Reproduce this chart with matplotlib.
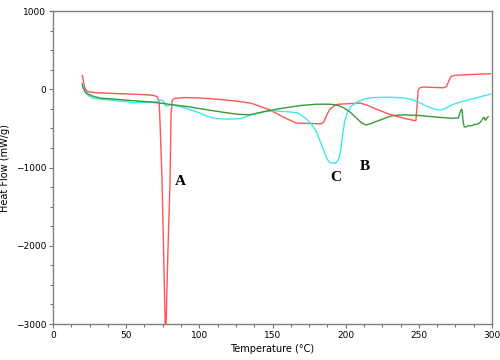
import matplotlib
matplotlib.use("Agg")
import matplotlib.pyplot as plt
from matplotlib.ticker import MultipleLocator

# Curva A (roja)
temp_a = [20, 20.7, 21.5, 23, 25, 32, 45, 60, 68, 71, 72.5, 73.3, 74.5, 75.5, 76.7,
          77.2, 78.5, 80, 80.7, 81.5, 83, 90, 100, 115, 125, 135, 148, 157, 166,
          174, 183, 185, 187, 189, 192, 195, 205, 210, 215, 220, 230, 240, 246,
          248, 248.8, 249.5, 250.5, 253, 260, 267, 269, 270.5, 272, 275, 285, 299]
flow_a = [180, 120, 30, -20, -35, -45, -55, -65, -75, -90, -150, -500, -1160, -2000, -3050,
          -3050, -2100, -1160, -300, -140, -115, -105, -110, -130, -150, -175, -260, -350, -430,
          -435, -440, -420, -330, -260, -210, -190, -180, -175, -205, -245, -320, -370, -395,
          -400, -200, -20, 20, 30, 25, 20, 40, 110, 165, 180, 190, 200]

# Curva C (cian)
temp_c = [20, 20.5, 21.5, 23, 25, 27, 32, 44, 52, 55, 58, 66, 71, 73.5, 75.5, 77, 78.5,
          80, 85, 92, 100, 106, 112, 120, 128, 132, 135, 145, 150, 160, 167, 172, 176,
          180, 184, 187, 189, 193, 195, 196.5, 198, 199.5, 201, 204, 208, 213, 219, 230,
          240, 246, 251, 256, 261, 264.5, 268, 272, 276, 285, 292, 299]
flow_c = [80, 40, -20, -60, -90, -110, -125, -145, -160, -175, -165, -165, -160, -135, -150, -210, -215,
          -195, -210, -250, -300, -350, -375, -380, -375, -350, -325, -285, -275, -285, -300, -360, -430,
          -540, -730, -880, -935, -945, -900, -800, -560, -400, -300, -210, -160, -120, -105, -100,
          -110, -135, -175, -220, -255, -265, -245, -205, -175, -130, -95, -60]

# Curva B (verde)
temp_b = [20, 20.5, 22, 24, 27, 32, 45, 55, 66, 75, 83, 92, 100, 110, 119, 127, 135, 145,
          157, 170, 180, 190, 195, 199, 203, 207, 211, 214, 217, 221, 226, 232, 240, 251,
          262, 273, 277, 278, 279, 279.5, 280.2, 281, 282, 284, 286, 288, 290, 292, 293.5,
          294.5, 295.5, 296.5, 297.5]
flow_b = [60, 20, -30, -60, -85, -110, -130, -145, -160, -180, -200, -220, -245, -275, -300, -320, -325, -280,
          -240, -205, -190, -190, -205, -240, -290, -360, -430, -455, -440, -410, -375, -335, -325, -335,
          -355, -370, -365, -300, -255, -260, -400, -480, -480, -465, -465, -450, -445, -420, -380,
          -355, -395, -365, -350]

x_ticks = [0, 50, 100, 150, 200, 250, 300]
y_ticks = [-3000, -2000, -1000, 0, 1000]

fig = plt.figure(figsize=(5, 3.6), dpi=100)
ax = fig.add_axes([0.106, 0.1, 0.878, 0.869])

ax.plot(temp_a, flow_a, color="#ff5555", lw=1.0)
ax.plot(temp_c, flow_c, color="#3de9ee", lw=1.0)
ax.plot(temp_b, flow_b, color="#3a9a3a", lw=1.0)

# Etiquetas de los picos
etiq = {"fontfamily": "Liberation Serif", "fontweight": "bold", "fontsize": 11}
ax.text(87, -1180, "A", ha="center", va="center", **etiq)
ax.text(193, -1130, "C", ha="center", va="center", **etiq)
ax.text(213, -990, "B", ha="center", va="center", **etiq)

ax.set_xlim(0, 300)
ax.set_ylim(-3000, 1000)
ax.set_xticks(x_ticks)
ax.set_yticks(y_ticks)
ax.xaxis.set_minor_locator(MultipleLocator(12.5))
ax.yaxis.set_minor_locator(MultipleLocator(250))
ax.tick_params(which="both", direction="out", color="#707070", width=0.8,
               labelsize=6.5, pad=2)
ax.tick_params(which="major", length=3)
ax.tick_params(which="minor", length=2)

for s in ax.spines.values():
    s.set_color("#808080")
    s.set_linewidth(1.0)

ax.set_xlabel("Temperature (°C)", fontsize=7, labelpad=3)
ax.set_ylabel("Heat Flow (mW/g)", fontsize=7)
ax.yaxis.set_label_coords(-0.098, 0.5)

fig.savefig("out.png", dpi=100)
